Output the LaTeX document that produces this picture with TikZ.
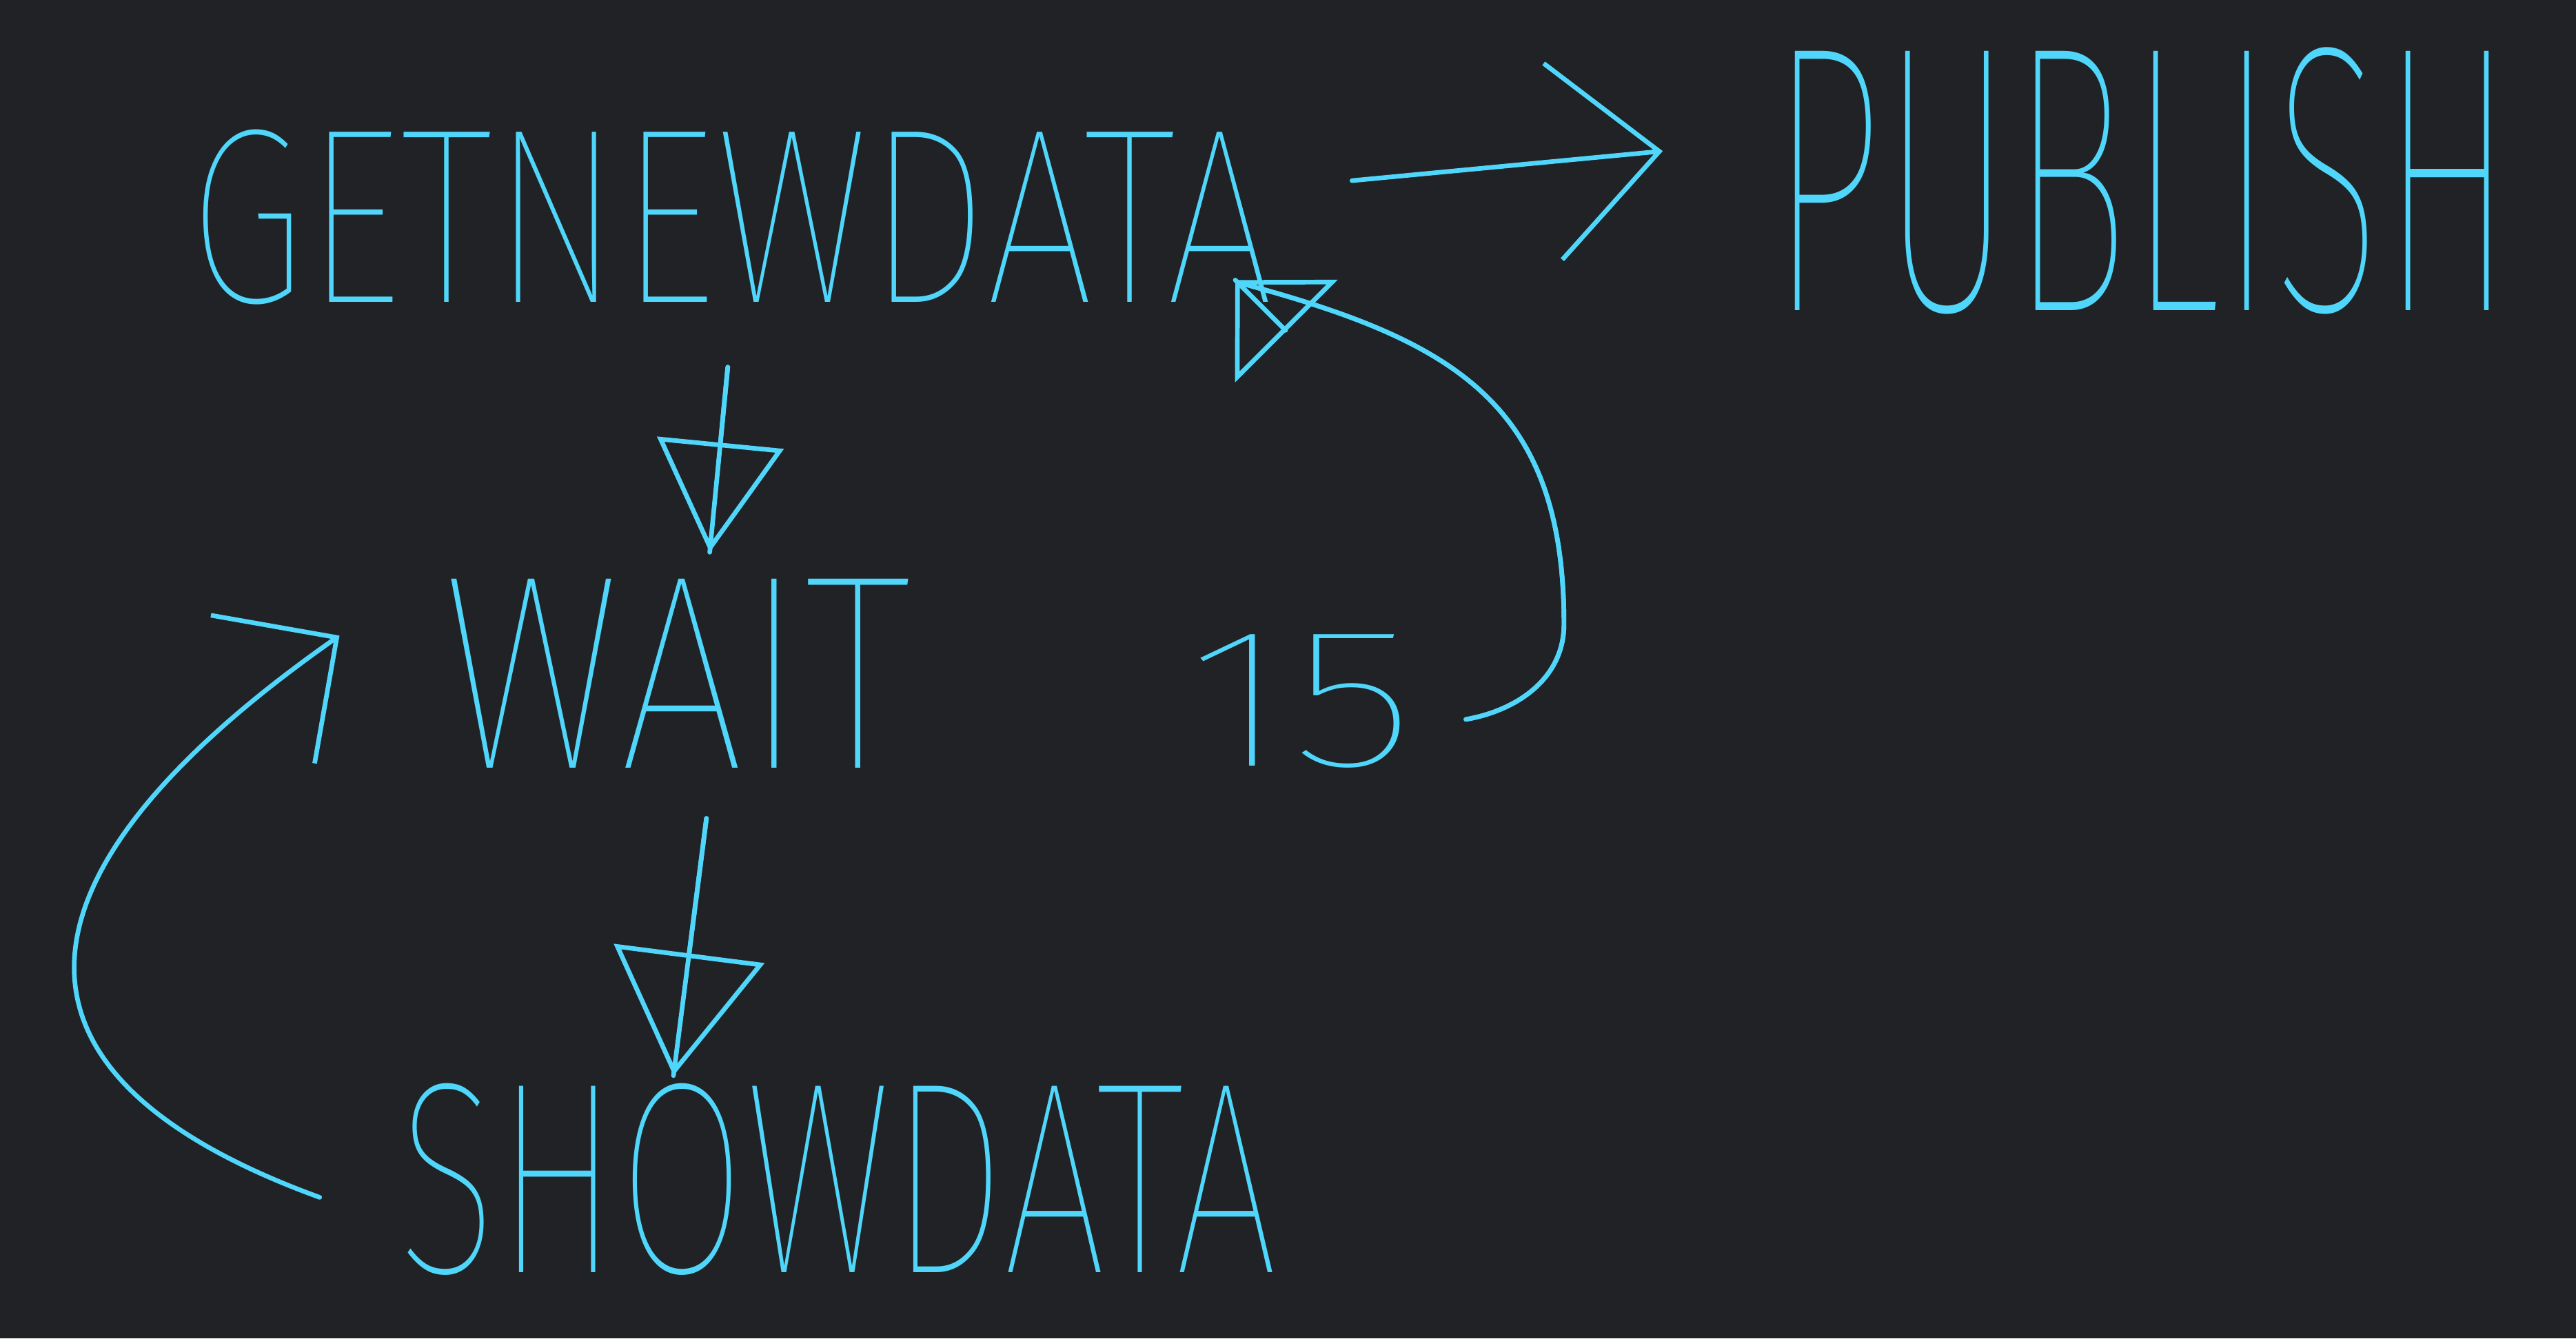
\documentclass[tikz,border=0pt]{standalone}
\usepackage{fontspec}
\usetikzlibrary{arrows.meta}
\IfFontExistsTF{Fira Sans Thin}{\newfontfamily\hand{Fira Sans Thin}}{%
  \IfFontExistsTF{Fira Sans ExtraLight}{\newfontfamily\hand{Fira Sans ExtraLight}}{%
    \IfFontExistsTF{Fira Sans Light}{\newfontfamily\hand{Fira Sans Light}}{%
      \IfFontExistsTF{Open Sans Light}{\newfontfamily\hand{Open Sans Light}}{%
        \newfontfamily\hand{Liberation Sans}}}}}
\definecolor{board}{RGB}{32,34,38}
\definecolor{ink}{RGB}{80,214,250}
\tikzstyle{word}=[inner sep=0pt,text=ink,font=\hand]
\tikzstyle{pen}=[draw=ink,line width=0.8pt,line cap=round,line join=round]
\tikzstyle{tri}=[pen,postaction={draw=ink,-}]

\begin{document}
\begin{tikzpicture}[x=0.01cm,y=-0.01cm]
    \path[use as bounding box,fill=board] (0,0) rectangle (1568,815);
    \node[word] (1) at (445,132) {\resizebox{6.6cm}{1.05cm}{GETNEWDATA}};
    \node[word] (2) at (1304,110) {\resizebox{4.52cm}{1.6cm}{PUBLISH}};
    \node[word] (3) at (412,410) {\resizebox{2.85cm}{1.15cm}{WAIT}};
    \node[word] (4) at (510,718) {\resizebox{5.35cm}{1.15cm}{SHOWDATA}};
    \node[word] (5) at (792,427) {\resizebox{1.39cm}{0.8cm}{15}};
    \draw[pen,-{Straight Barb[length=6.5mm,width=12mm]}] ([xshift=4.7mm,yshift=2.2mm]1.east) to ([xshift=-6.5mm,yshift=1.8mm]2.west);
    \draw[tri,-{Triangle[open,length=6.7mm,width=7.7mm]}] ([xshift=-0.2mm,yshift=-3.75mm]1.south) to ([xshift=2mm,yshift=1.55mm]3.north);
    \draw[tri,-{Triangle[open,length=7.5mm,width=9.2mm]}] ([xshift=1.8mm,yshift=-3mm]3.south) to ([xshift=-10mm,yshift=0.4mm]4.north);
    % loop back
    \draw[pen,-{Straight Barb[length=5.5mm,width=11mm]}] ([xshift=-4.7mm,yshift=-1.1mm]4.west) to[out=160,in=215,looseness=1.75] ([xshift=-6.2mm,yshift=2.3mm]3.west);
    \draw[tri,-{Triangle[open,length=4.4mm,width=8.8mm]}] ([xshift=3mm,yshift=-1.1mm]5.east) to[out=10,in=-90] (952,380) to[out=90,in=-15,looseness=1.2] ([xshift=-2.26mm,yshift=1.41mm]1.south east) -- ([xshift=-2.4mm,yshift=1.55mm]1.south east);
\end{tikzpicture}
\end{document}
